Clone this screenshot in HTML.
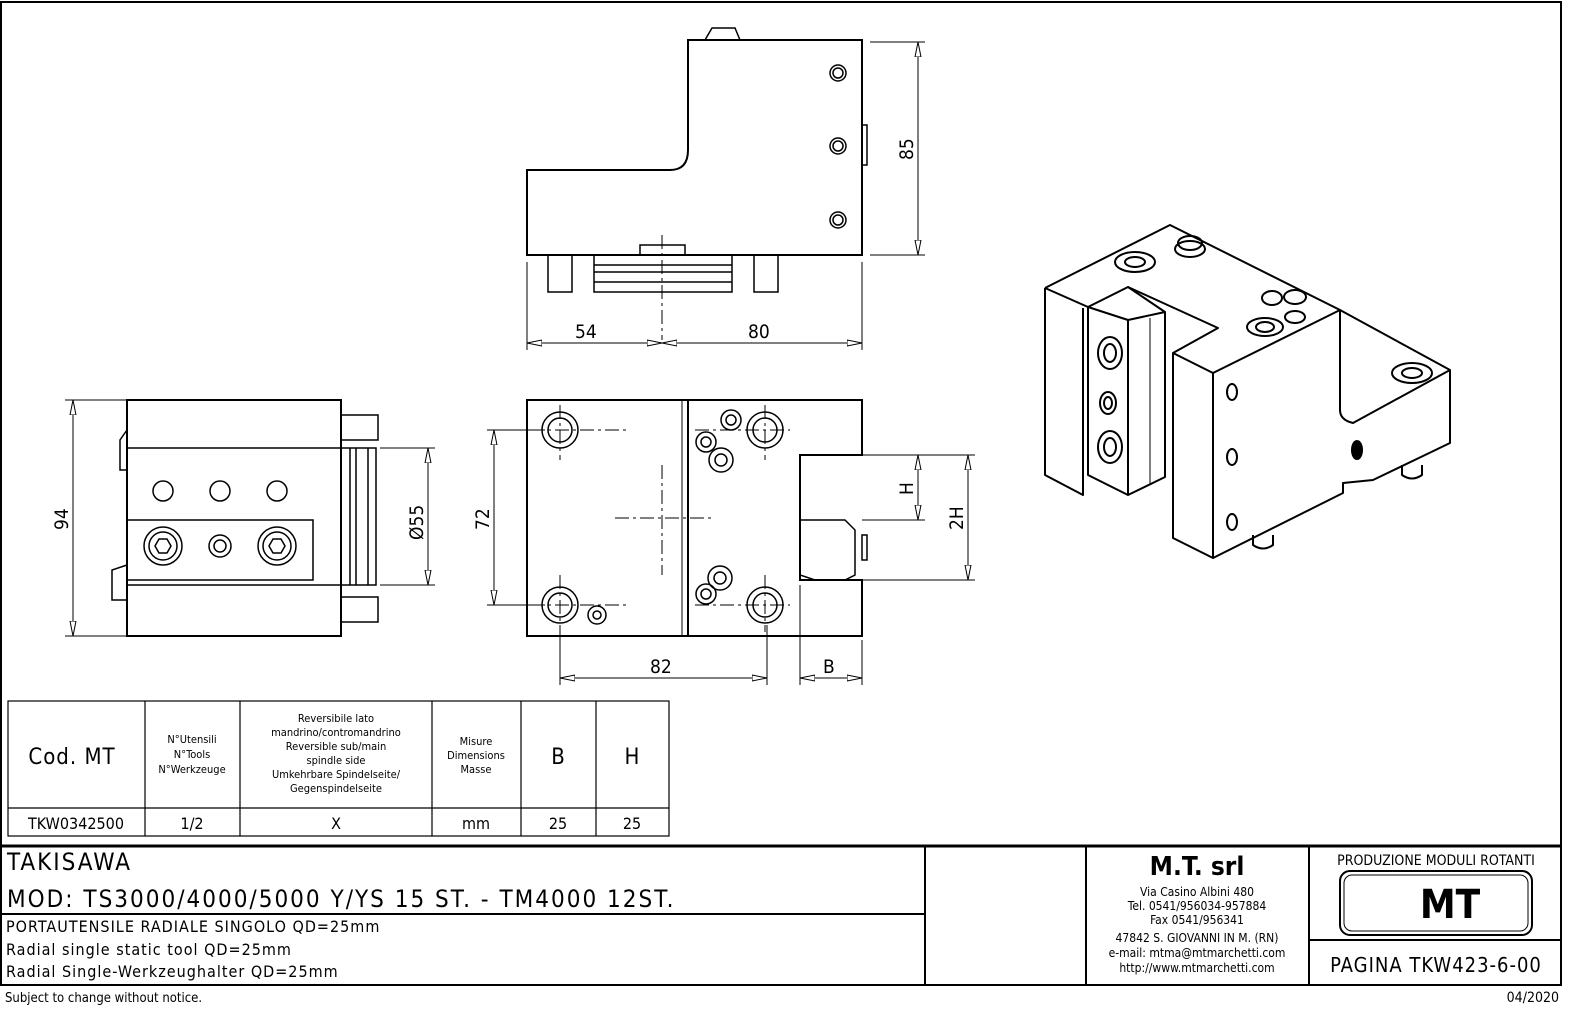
<!DOCTYPE html>
<html><head><meta charset="utf-8"><style>
html,body{margin:0;padding:0;background:#fff}
svg{display:block}
text{font-family:"DejaVu Sans Condensed","Liberation Sans Narrow","Liberation Sans",sans-serif;fill:#000}
</style></head><body>
<svg width="1595" height="1024" viewBox="0 0 1595 1024" xmlns="http://www.w3.org/2000/svg">
<defs>
<marker id="ar" markerWidth="16" markerHeight="8" refX="15" refY="4" orient="auto-start-reverse" markerUnits="userSpaceOnUse">
<path d="M0 1 L15 4 L0 7 Z" fill="#fff" stroke="#000" stroke-width="1"/>
</marker>
</defs>
<g fill="none" stroke="#000" stroke-width="2">
<rect x="1" y="2" width="1560" height="983"/>
<line x1="1" y1="846" x2="1561" y2="846" stroke-width="3"/>
<rect x="8" y="701" width="661" height="135" stroke-width="1.2"/>
<line x1="8" y1="808" x2="669" y2="808" stroke-width="1.2"/>
<g stroke-width="1.2"><line x1="145" y1="701" x2="145" y2="836"/><line x1="240" y1="701" x2="240" y2="836"/><line x1="432" y1="701" x2="432" y2="836"/><line x1="521" y1="701" x2="521" y2="836"/><line x1="596" y1="701" x2="596" y2="836"/></g>
<line x1="925" y1="846" x2="925" y2="985"/><line x1="1086" y1="846" x2="1086" y2="985"/><line x1="1309" y1="846" x2="1309" y2="985"/>
<line x1="1" y1="914" x2="925" y2="914"/><line x1="1309" y1="940" x2="1561" y2="940"/>
<rect x="1340" y="871" width="192" height="64" rx="10"/>
<rect x="1344" y="875" width="184" height="56" rx="8" stroke-width="1"/>
<!-- TOP VIEW -->
<path d="M527 170 H670 Q688 170 688 150 V40 H862 V255 H527 Z"/>
<path d="M705 40 L712 28 H735 L740 40" stroke-width="1.5"/>
<g stroke-width="1.5">
<circle cx="838" cy="73" r="8"/><circle cx="838" cy="73" r="5"/>
<circle cx="838" cy="146" r="8"/><circle cx="838" cy="146" r="5"/>
<circle cx="838" cy="220" r="8"/><circle cx="838" cy="220" r="5"/>
<rect x="862" y="125" width="5" height="40"/>
<path d="M640 255 V245 H685 V255"/>
<rect x="548" y="255" width="24" height="37"/><rect x="754" y="255" width="24" height="37"/>
<rect x="594" y="255" width="138" height="37"/>
<line x1="594" y1="265" x2="732" y2="265"/><line x1="594" y1="272" x2="732" y2="272"/><line x1="594" y1="282" x2="732" y2="282"/>
</g>
<!-- ISO VIEW -->
<g stroke-width="2" stroke-linejoin="round">
<path d="M1045 288 L1170 225 L1340 310 L1213 373 L1173 353 L1218 328 L1128 287"/>
<path d="M1045 288 L1088 307"/>
<path d="M1045 288 V475 L1083 495 V308"/>
<path d="M1088 307 L1128 287 L1165 312 L1128 320 Z"/>
<path d="M1088 307 V475 L1128 495 L1165 477 V312"/>
<path d="M1128 320 V495"/>
<path d="M1150 318 V485" stroke-width="1"/>
<path d="M1173 353 V538 L1213 558 V373"/>
<path d="M1213 558 L1343 493 V483 L1373 480 L1450 443 V370 L1340 310 L1340 410 Q1340 420 1353 423 L1450 370"/>
<ellipse cx="1110" cy="353" rx="12" ry="16"/><ellipse cx="1110" cy="353" rx="6" ry="9"/>
<ellipse cx="1108" cy="403" rx="8" ry="11"/><ellipse cx="1108" cy="403" rx="4" ry="6"/>
<ellipse cx="1110" cy="447" rx="12" ry="16"/><ellipse cx="1110" cy="447" rx="6" ry="9"/>
<ellipse cx="1232" cy="392" rx="5" ry="8"/><ellipse cx="1232" cy="457" rx="5" ry="8"/><ellipse cx="1232" cy="522" rx="5" ry="8"/>
<ellipse cx="1357" cy="450" rx="5" ry="9" fill="#000"/>
<ellipse cx="1135" cy="262" rx="20" ry="10"/><ellipse cx="1135" cy="262" rx="10" ry="5"/>
<ellipse cx="1190" cy="243" rx="12" ry="7"/><ellipse cx="1190" cy="249" rx="15" ry="8"/>
<ellipse cx="1265" cy="327" rx="18" ry="9"/><ellipse cx="1265" cy="327" rx="9" ry="5"/>
<ellipse cx="1272" cy="298" rx="10" ry="7"/><ellipse cx="1295" cy="297" rx="11" ry="7"/><ellipse cx="1295" cy="317" rx="10" ry="6"/>
<ellipse cx="1412" cy="373" rx="20" ry="10"/><ellipse cx="1412" cy="373" rx="10" ry="5"/>
<path d="M1253 535 V545 Q1263 552 1273 545 V535"/>
<path d="M1402 465 V475 Q1412 482 1422 475 V465"/>
</g>
<!-- FRONT VIEW LEFT -->
<rect x="127" y="400" width="214" height="236"/>
<g stroke-width="1.5">
<line x1="127" y1="448" x2="341" y2="448"/><line x1="127" y1="585" x2="341" y2="585"/>
<rect x="127" y="520" width="186" height="60"/>
<circle cx="163" cy="491" r="10"/><circle cx="220" cy="491" r="10"/><circle cx="277" cy="491" r="10"/>
<circle cx="163" cy="546" r="19"/><circle cx="163" cy="546" r="14"/><polygon points="155,546 159,539 167,539 171,546 167,553 159,553"/>
<circle cx="277" cy="546" r="19"/><circle cx="277" cy="546" r="14"/><polygon points="269,546 273,539 281,539 285,546 281,553 273,553"/>
<circle cx="220" cy="546" r="11"/><circle cx="220" cy="546" r="6"/>
<rect x="341" y="415" width="37" height="25"/><rect x="341" y="597" width="37" height="25"/>
<rect x="341" y="448" width="35" height="137"/>
<line x1="350" y1="448" x2="350" y2="585"/><line x1="356" y1="448" x2="356" y2="585"/><line x1="368" y1="448" x2="368" y2="585"/>
<path d="M127 430 L120 440 V470 L127 470"/><path d="M127 565 L112 570 V600 L127 600"/>
</g>
<!-- FRONT VIEW MIDDLE -->
<path d="M527 400 H862 V455 H800 V580 H862 V636 H527 Z"/>
<line x1="688" y1="400" x2="688" y2="636"/><line x1="682" y1="400" x2="682" y2="636" stroke-width="1"/>
<g stroke-width="1.5">
<circle cx="560" cy="430" r="18"/><circle cx="560" cy="430" r="12"/>
<circle cx="765" cy="430" r="18"/><circle cx="765" cy="430" r="12"/>
<circle cx="560" cy="605" r="18"/><circle cx="560" cy="605" r="12"/>
<circle cx="765" cy="605" r="18"/><circle cx="765" cy="605" r="12"/>
<circle cx="597" cy="615" r="9"/><circle cx="597" cy="615" r="4"/>
<circle cx="731" cy="420" r="10"/><circle cx="731" cy="420" r="5"/>
<circle cx="706" cy="442" r="10"/><circle cx="706" cy="442" r="5"/>
<circle cx="721" cy="460" r="12"/><circle cx="721" cy="460" r="6"/>
<circle cx="720" cy="578" r="12"/><circle cx="720" cy="578" r="6"/>
<circle cx="706" cy="594" r="10"/><circle cx="706" cy="594" r="5"/>
<path d="M800 520 H845 L855 530 V575 L845 580 H815 L800 575 Z"/>
<rect x="862" y="535" width="5" height="25"/>
</g>
<g stroke-width="1" stroke-dasharray="14,4,3,4">
<line x1="530" y1="430" x2="630" y2="430"/><line x1="560" y1="405" x2="560" y2="460"/>
<line x1="530" y1="605" x2="630" y2="605"/><line x1="560" y1="575" x2="560" y2="632"/>
<line x1="695" y1="430" x2="790" y2="430"/><line x1="765" y1="405" x2="765" y2="460"/>
<line x1="695" y1="605" x2="790" y2="605"/><line x1="765" y1="575" x2="765" y2="632"/>
<line x1="615" y1="518" x2="712" y2="518"/><line x1="662" y1="465" x2="662" y2="575"/>
<line x1="662" y1="235" x2="662" y2="340"/>
</g>
<!-- dimension lines -->
<g stroke-width="1">
<line x1="527" y1="262" x2="527" y2="350"/><line x1="862" y1="262" x2="862" y2="350"/>
<line x1="527" y1="343" x2="662" y2="343" marker-start="url(#ar)" marker-end="url(#ar)"/>
<line x1="662" y1="343" x2="862" y2="343" marker-start="url(#ar)" marker-end="url(#ar)"/>
<line x1="870" y1="42" x2="925" y2="42"/><line x1="870" y1="255" x2="925" y2="255"/><line x1="918" y1="42" x2="918" y2="255" marker-start="url(#ar)" marker-end="url(#ar)"/>
<line x1="65" y1="400" x2="127" y2="400"/><line x1="65" y1="636" x2="127" y2="636"/><line x1="73" y1="400" x2="73" y2="636" marker-start="url(#ar)" marker-end="url(#ar)"/>
<line x1="380" y1="448" x2="435" y2="448"/><line x1="380" y1="585" x2="435" y2="585"/><line x1="428" y1="448" x2="428" y2="585" marker-start="url(#ar)" marker-end="url(#ar)"/>
<line x1="487" y1="430" x2="545" y2="430"/><line x1="487" y1="605" x2="545" y2="605"/><line x1="494" y1="430" x2="494" y2="605" marker-start="url(#ar)" marker-end="url(#ar)"/>
<line x1="560" y1="625" x2="560" y2="685"/><line x1="767" y1="625" x2="767" y2="685"/><line x1="560" y1="678" x2="767" y2="678" marker-start="url(#ar)" marker-end="url(#ar)"/>
<line x1="800" y1="585" x2="800" y2="685"/><line x1="862" y1="640" x2="862" y2="685"/><line x1="800" y1="678" x2="862" y2="678" marker-start="url(#ar)" marker-end="url(#ar)"/>
<line x1="862" y1="455" x2="975" y2="455"/><line x1="862" y1="520" x2="925" y2="520"/><line x1="862" y1="580" x2="975" y2="580"/>
<line x1="918" y1="455" x2="918" y2="520" marker-start="url(#ar)" marker-end="url(#ar)"/><line x1="968" y1="455" x2="968" y2="580" marker-start="url(#ar)" marker-end="url(#ar)"/>
</g>
</g>
<g font-size="19">
<text x="575" y="338">54</text><text x="748" y="338">80</text>
<text x="913" y="160" transform="rotate(-90 913 160)">85</text>
<text x="68" y="530" transform="rotate(-90 68 530)">94</text>
<text x="423" y="540" transform="rotate(-90 423 540)">Ø55</text>
<text x="489" y="530" transform="rotate(-90 489 530)">72</text>
<text x="650" y="673">82</text><text x="823" y="673">B</text>
<text x="913" y="495" transform="rotate(-90 913 495)">H</text>
<text x="963" y="530" transform="rotate(-90 963 530)">2H</text>
</g>
<g text-anchor="middle">
<text x="72" y="764" font-size="22" letter-spacing="1">Cod. MT</text>
<text x="192" y="743" font-size="11">N°Utensili</text><text x="192" y="758" font-size="11">N°Tools</text><text x="192" y="773" font-size="11">N°Werkzeuge</text>
<g font-size="11"><text x="336" y="722">Reversibile lato</text><text x="336" y="736">mandrino/contromandrino</text><text x="336" y="750">Reversible sub/main</text><text x="336" y="764">spindle side</text><text x="336" y="778">Umkehrbare Spindelseite/</text><text x="336" y="792">Gegenspindelseite</text></g>
<g font-size="11"><text x="476" y="745">Misure</text><text x="476" y="759">Dimensions</text><text x="476" y="773">Masse</text></g>
<text x="558" y="764" font-size="22">B</text><text x="632" y="764" font-size="22">H</text>
<g font-size="16"><text x="76" y="829">TKW0342500</text><text x="192" y="829">1/2</text><text x="336" y="829">X</text><text x="476" y="829">mm</text><text x="558" y="829">25</text><text x="632" y="829">25</text></g>
<text x="1197" y="875" font-size="26" font-weight="bold">M.T. srl</text>
<g font-size="12"><text x="1197" y="896">Via Casino Albini 480</text><text x="1197" y="910">Tel. 0541/956034-957884</text><text x="1197" y="924">Fax 0541/956341</text><text x="1197" y="942">47842 S. GIOVANNI IN M. (RN)</text><text x="1197" y="957">e-mail: mtma@mtmarchetti.com</text><text x="1197" y="972">http://www.mtmarchetti.com</text></g>
<text x="1436" y="865" font-size="14">PRODUZIONE MODULI ROTANTI</text>
<text x="1450" y="918" font-size="40" font-weight="bold" font-family="Liberation Serif,serif">MT</text>
<text x="1436" y="972" font-size="20" letter-spacing="1">PAGINA TKW423-6-00</text>
</g>
<g font-size="24" letter-spacing="2"><text x="7" y="870">TAKISAWA</text><text x="7" y="907">MOD: TS3000/4000/5000 Y/YS 15 ST. - TM4000 12ST.</text></g>
<g font-size="16" letter-spacing="1"><text x="6" y="932">PORTAUTENSILE RADIALE SINGOLO QD=25mm</text><text x="6" y="955">Radial single static tool QD=25mm</text><text x="6" y="977">Radial Single-Werkzeughalter QD=25mm</text></g>
<text x="5" y="1002" font-size="13">Subject to change without notice.</text>
<text x="1559" y="1002" font-size="14" text-anchor="end">04/2020</text>
</svg>
</body></html>
